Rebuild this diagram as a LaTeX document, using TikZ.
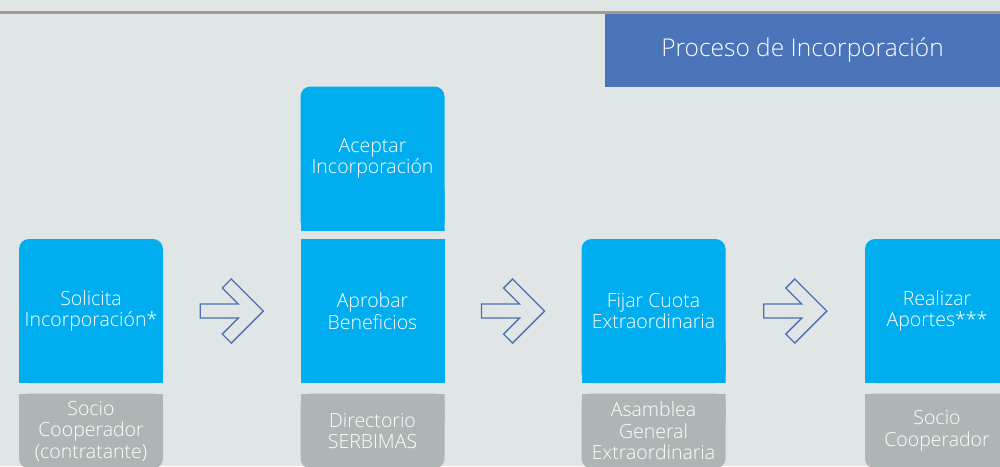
\documentclass[tikz,border=0pt]{standalone}
\usepackage{fontspec}
\IfFontExistsTF{Open Sans Light}{\setmainfont{Open Sans Light}}{\setmainfont{Open Sans}}
\usetikzlibrary{calc}
\definecolor{bgcol}{HTML}{E0E6E6}
\definecolor{linecol}{HTML}{A39B93}
\definecolor{titlecol}{HTML}{4A73B9}
\definecolor{boxblue}{HTML}{00AEEF}
\definecolor{boxgray}{HTML}{ADB5B5}
\definecolor{arrowcol}{HTML}{4C6FB6}
\tikzset{
  basebox/.style={rectangle, inner sep=0pt, align=center, text=white,
    font=\fontsize{19.5}{21.5}\selectfont},
  topround/.style={basebox, minimum width=144pt, minimum height=144pt,
    path picture={
      \fill[#1, rounded corners=10pt] (path picture bounding box.south west) rectangle (path picture bounding box.north east);
      \fill[#1] (path picture bounding box.south west) rectangle ([yshift=-30pt]path picture bounding box.east);
    }},
  plainbox/.style={basebox, minimum width=144pt, minimum height=144pt, fill=boxblue},
  graybox/.style={basebox, minimum width=144pt, minimum height=75pt,
    path picture={
      \fill[boxgray, rounded corners=10pt] (path picture bounding box.south west) rectangle (path picture bounding box.north east);
      \fill[boxgray] (path picture bounding box.north west) rectangle ([yshift=10pt]path picture bounding box.east);
    }},
  titlebox/.style={rectangle, fill=titlecol, minimum width=395pt, minimum height=73pt,
    inner sep=0pt, text=white, font=\fontsize{24.5}{28}\selectfont},
  hollowarrow/.pic={
    \draw[arrowcol, line width=1.4pt, line join=miter]
      (-31.5,-7) -- (6.5,-7) -- (-9.5,-23) -- (-0.5,-32) -- (31.5,0)
      -- (-0.5,32) -- (-9.5,23) -- (6.5,7) -- (-31.5,7) -- cycle;
  }
}
\begin{document}
\begin{tikzpicture}[x=1pt,y=-1pt]
\useasboundingbox (0,0) rectangle (1000,466);
\clip (0,0) rectangle (1000,466);
\fill[bgcol] (0,0) rectangle (1000,466);
\coordinate (lineL) at (0,12.5);
\coordinate (lineR) at (1000,12.5);
\draw[linecol, line width=2.5pt] (lineL) -- (lineR);
\node[titlebox] (title) at (802.5,50.5) {Proceso de Incorporación};

% column 1
\node[topround=boxblue] (s1) at (91,311) {Solicita\\Incorporación*};
\node[graybox] (g1) at (91,431) {Socio\\Cooperador\\(contratante)};
% column 2
\node[topround=boxblue] (s2a) at (372.5,158.5) {Aceptar\\Incorporación};
\node[plainbox] (s2) at (372.5,311) {Aprobar\\Beneficios};
\node[graybox] (g2) at (372.5,431) {Directorio\\SERBIMAS};
% column 3
\node[topround=boxblue] (s3) at (653.5,311) {Fijar Cuota\\Extraordinaria};
\node[graybox] (g3) at (653.5,431) {Asamblea\\General\\Extraordinaria};
% column 4
\node[topround=boxblue] (s4) at (937,311) {Realizar\\Aportes***};
\node[graybox] (g4) at (937,431) {Socio\\Cooperador};

% arrows
\coordinate (a1) at ($(s1.east)!0.5!(s2.west)$);
\coordinate (a2) at ($(s2.east)!0.5!(s3.west)$);
\coordinate (a3) at ($(s3.east)!0.5!(s4.west)$);
\pic at (a1) {hollowarrow};
\pic at (a2) {hollowarrow};
\pic at (a3) {hollowarrow};
\end{tikzpicture}
\end{document}
